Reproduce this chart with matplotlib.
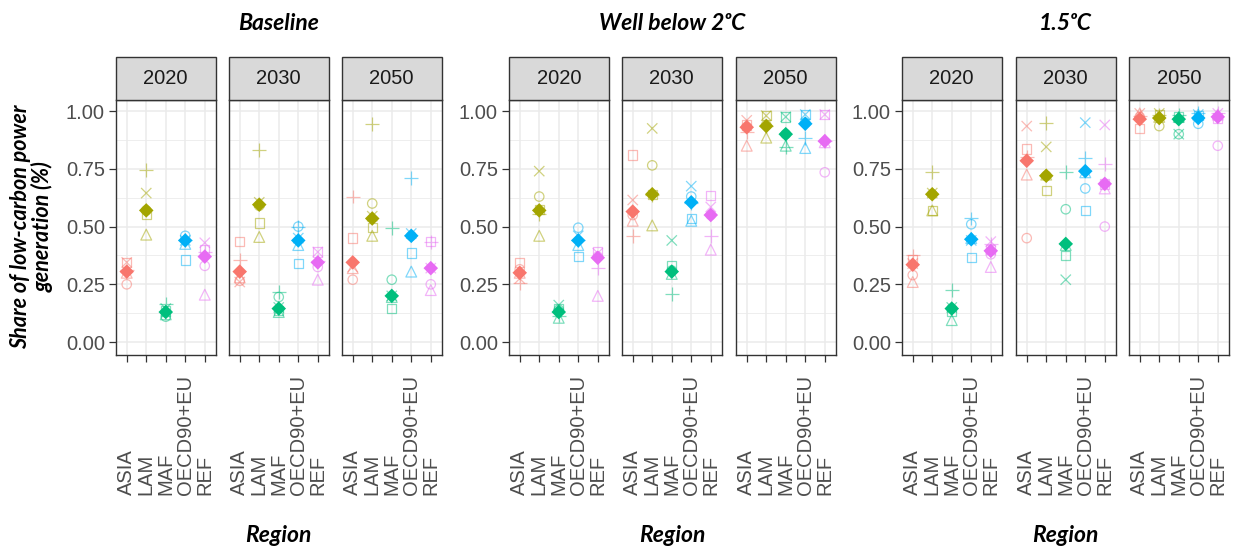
import matplotlib
matplotlib.use("Agg")
import matplotlib.pyplot as plt
from matplotlib.patches import Rectangle
from matplotlib.ticker import MultipleLocator

# ---------------- data ----------------
regions = ["ASIA", "LAM", "MAF", "OECD90+EU", "REF"]
years = ["2020", "2030", "2050"]
scenarios = ["Baseline", "Well below 2\u1d52C", "1.5\u1d52C"]
region_colors = ["#F8766D", "#A3A500", "#00BF7D", "#00B0F6", "#E76BF3"]
y_ticks = [0.0, 0.25, 0.5, 0.75, 1.0]
y_tick_labels = ["0.00", "0.25", "0.50", "0.75", "1.00"]

# rows = years (2020, 2030, 2050), cols = regions
base_circle = [[0.25, 0.57, 0.11, 0.46, 0.33],
               [0.265, 0.59, 0.195, 0.50, 0.325],
               [0.27, 0.60, 0.27, 0.46, 0.25]]
base_triangle = [[0.30, 0.465, 0.12, 0.425, 0.205],
                 [0.28, 0.455, 0.13, 0.42, 0.27],
                 [0.32, 0.46, 0.195, 0.305, 0.225]]
base_square = [[0.345, 0.555, 0.135, 0.355, 0.40],
               [0.435, 0.515, 0.137, 0.34, 0.39],
               [0.45, 0.495, 0.145, 0.385, 0.435]]
base_plus = [[0.31, 0.745, 0.165, 0.44, 0.39],
             [0.355, 0.83, 0.215, 0.50, 0.35],
             [0.63, 0.945, 0.495, 0.71, 0.435]]
base_cross = [[0.345, 0.645, 0.145, 0.44, 0.43],
              [0.26, 0.605, 0.15, 0.45, 0.39],
              [0.325, 0.545, 0.20, 0.47, 0.32]]
base_mean = [[0.305, 0.57, 0.13, 0.44, 0.37],
             [0.305, 0.595, 0.145, 0.44, 0.345],
             [0.345, 0.535, 0.20, 0.46, 0.32]]

wb2_circle = [[0.315, 0.63, 0.14, 0.495, 0.37],
              [0.55, 0.765, 0.31, 0.63, 0.55],
              [0.93, 0.94, 0.90, 0.95, 0.735]]
wb2_triangle = [[0.30, 0.46, 0.105, 0.42, 0.20],
                [0.525, 0.505, 0.295, 0.525, 0.40],
                [0.85, 0.885, 0.85, 0.84, 0.865]]
wb2_square = [[0.345, 0.575, 0.145, 0.37, 0.39],
              [0.81, 0.64, 0.33, 0.535, 0.635],
              [0.94, 0.98, 0.975, 0.985, 0.985]]
wb2_plus = [[0.255, 0.555, 0.115, 0.44, 0.32],
            [0.46, 0.635, 0.21, 0.60, 0.46],
            [0.91, 0.935, 0.845, 0.885, 0.87]]
wb2_cross = [[0.275, 0.74, 0.16, 0.46, 0.385],
             [0.615, 0.925, 0.44, 0.675, 0.585],
             [0.96, 0.98, 0.975, 0.985, 0.985]]
wb2_mean = [[0.30, 0.57, 0.13, 0.44, 0.365],
            [0.565, 0.64, 0.305, 0.605, 0.55],
            [0.93, 0.935, 0.90, 0.945, 0.87]]

p15_circle = [[0.29, 0.64, 0.145, 0.51, 0.38],
              [0.45, 0.72, 0.575, 0.665, 0.50],
              [0.975, 0.935, 0.90, 0.945, 0.85]]
p15_triangle = [[0.26, 0.57, 0.095, 0.45, 0.325],
                [0.725, 0.725, 0.42, 0.735, 0.665],
                [0.99, 0.975, 0.975, 0.985, 0.985]]
p15_square = [[0.355, 0.57, 0.135, 0.365, 0.40],
              [0.835, 0.655, 0.375, 0.57, 0.685],
              [0.925, 0.985, 0.975, 0.98, 0.97]]
p15_plus = [[0.375, 0.735, 0.225, 0.535, 0.425],
            [0.80, 0.95, 0.735, 0.795, 0.77],
            [0.98, 0.985, 0.985, 0.99, 0.99]]
p15_cross = [[0.34, 0.645, 0.15, 0.44, 0.435],
             [0.935, 0.845, 0.27, 0.95, 0.94],
             [0.99, 0.99, 0.90, 0.985, 0.99]]
p15_mean = [[0.335, 0.64, 0.145, 0.445, 0.395],
            [0.785, 0.72, 0.425, 0.74, 0.685],
            [0.965, 0.97, 0.965, 0.97, 0.975]]

scenario_models = [
    [base_circle, base_triangle, base_square, base_plus, base_cross],
    [wb2_circle, wb2_triangle, wb2_square, wb2_plus, wb2_cross],
    [p15_circle, p15_triangle, p15_square, p15_plus, p15_cross],
]
scenario_means = [base_mean, wb2_mean, p15_mean]

# ---------------- styling ----------------
model_markers = ["o", "^", "s", "+", "x"]
model_sizes = [46, 60, 46, 100, 55]
model_hollow = [True, True, True, False, False]

W, H = 1233, 547
fig = plt.figure(figsize=(W / 100, H / 100), dpi=100)
fig.patch.set_facecolor("white")

tick_font = ["Liberation Sans", "DejaVu Sans"]
title_font = ["Lato", "DejaVu Sans"]
grey_txt = "#4D4D4D"

group_lefts = [[116, 229, 342], [509, 622, 736], [902, 1016, 1129]]
panel_w = 99.5
panel_top, panel_bot = 100, 355
strip_h = 43

def fx(px):
    return px / W

def fy(py):
    return 1 - py / H

for s_i, scen in enumerate(scenarios):
    for y_i, year in enumerate(years):
        left = group_lefts[s_i][y_i]
        ax = fig.add_axes([fx(left), fy(panel_bot), panel_w / W,
                           (panel_bot - panel_top) / H])
        ax.set_facecolor("white")
        ax.set_axisbelow(True)
        # points
        for m_i, model in enumerate(scenario_models[s_i]):
            vals = model[y_i]
            if model_hollow[m_i]:
                ax.scatter(regions, vals, marker=model_markers[m_i],
                           s=model_sizes[m_i], facecolors="none",
                           edgecolors=region_colors, linewidths=0.9,
                           alpha=0.5, zorder=3)
            else:
                ax.scatter(regions, vals, marker=model_markers[m_i],
                           s=model_sizes[m_i], c=region_colors,
                           linewidths=0.9, alpha=0.5, zorder=3)
        ax.scatter(regions, scenario_means[s_i][y_i], marker="D", s=55,
                   c=region_colors, linewidths=0, zorder=4)

        ax.set_xlim(-0.55, 4.55)
        ax.set_ylim(-0.056, 1.048)
        ax.set_yticks(y_ticks)
        ax.yaxis.set_minor_locator(MultipleLocator(0.125))
        ax.grid(True, which="major", color="#EBEBEB", lw=1.1)
        ax.grid(True, which="minor", axis="y", color="#EBEBEB", lw=0.6)
        for sp in ax.spines.values():
            sp.set_color("#333333")
            sp.set_linewidth(1.0)
        ax.tick_params(axis="both", which="major", length=5, width=0.9,
                       color="#333333")
        ax.tick_params(axis="both", which="minor", length=0)
        ax.tick_params(axis="x", pad=96)
        ax.set_xticks(range(len(regions)))
        ax.set_xticklabels(regions, rotation=90, rotation_mode="anchor",
                           ha="left", va="center", color=grey_txt,
                           fontsize=14.5, family=tick_font)
        if y_i == 0:
            ax.set_yticklabels(y_tick_labels, color=grey_txt, fontsize=14.5,
                               family=tick_font)
            ax.tick_params(axis="y", pad=3)
        else:
            ax.tick_params(axis="y", labelleft=False, length=0)

        # strip
        sh = strip_h / (panel_bot - panel_top)
        ax.add_patch(Rectangle((0, 1), 1, sh, transform=ax.transAxes,
                               facecolor="#D9D9D9", edgecolor="#333333",
                               lw=1.0, clip_on=False, zorder=5))
        ax.text(0.5, 1 + sh / 2, year, transform=ax.transAxes, ha="center",
                va="center", fontsize=14.5, color="#1A1A1A", family=tick_font,
                zorder=6)

    gl = group_lefts[s_i]
    cx = (gl[0] + gl[2] + panel_w) / 2
    fig.text(fx(cx), fy(24), scen, ha="center", va="center", fontsize=16.5,
             fontweight="bold", style="italic", family=title_font)
    fig.text(fx(cx), fy(536), "Region", ha="center", va="center",
             fontsize=16.5, fontweight="bold", style="italic",
             family=title_font)

fig.text(fx(32), fy(227), "Share of low-carbon power\ngeneration (%)",
         rotation=90, ha="center", va="center", fontsize=15.5,
         fontweight="bold", style="italic", family=title_font,
         multialignment="center", linespacing=1.05)

fig.savefig("out.png", dpi=100, facecolor="white")
